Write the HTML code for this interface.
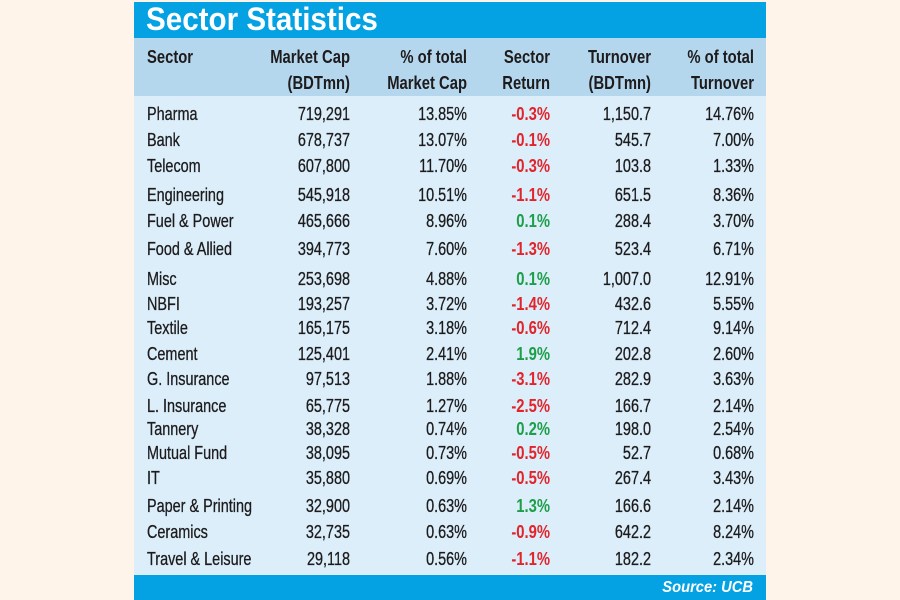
<!DOCTYPE html>
<html>
<head>
<meta charset="utf-8">
<style>
html,body{margin:0;padding:0;background:#FEF4E9;}
svg{display:block;}
text{font-family:"Liberation Sans",Arial,sans-serif;}
.b{font-size:18.5px;fill:#1d1b1c;stroke:#1d1b1c;stroke-width:0.3px;}
.h{font-size:18.5px;font-weight:bold;fill:#1d1b1c;}
.r{font-size:18.5px;font-weight:bold;fill:#E2242A;}
.g{font-size:18.5px;font-weight:bold;fill:#1E9E48;}
</style>
</head>
<body>
<svg width="900" height="600" viewBox="0 0 900 600" xmlns="http://www.w3.org/2000/svg">
<rect x="0" y="0" width="900" height="600" fill="#FEF4E9"/>
<rect x="134" y="2" width="632" height="36" fill="#04A2E3"/>
<rect x="134" y="38" width="632" height="58" fill="#B5D7EE"/>
<rect x="134" y="96" width="632" height="479" fill="#DBEEFA"/>
<rect x="134" y="575" width="632" height="25" fill="#04A2E3"/>

<text transform="translate(146,30) scale(0.925,1)" font-size="32" font-weight="bold" fill="#fff">Sector Statistics</text>

<!-- header -->
<g>
<text class="h" transform="translate(147,63) scale(0.8,1)">Sector</text>
<text class="h" transform="translate(350,63) scale(0.8,1)" text-anchor="end">Market Cap</text>
<text class="h" transform="translate(350,89) scale(0.8,1)" text-anchor="end">(BDTmn)</text>
<text class="h" transform="translate(467,63) scale(0.8,1)" text-anchor="end">% of total</text>
<text class="h" transform="translate(467,89) scale(0.8,1)" text-anchor="end">Market Cap</text>
<text class="h" transform="translate(550,63) scale(0.8,1)" text-anchor="end">Sector</text>
<text class="h" transform="translate(550,89) scale(0.8,1)" text-anchor="end">Return</text>
<text class="h" transform="translate(651,63) scale(0.8,1)" text-anchor="end">Turnover</text>
<text class="h" transform="translate(651,89) scale(0.8,1)" text-anchor="end">(BDTmn)</text>
<text class="h" transform="translate(754,63) scale(0.8,1)" text-anchor="end">% of total</text>
<text class="h" transform="translate(754,89) scale(0.8,1)" text-anchor="end">Turnover</text>
</g>

<!-- rows -->
<g>
<text class="b" transform="translate(147,120) scale(0.78,1)">Pharma</text>
<text class="b" transform="translate(350,120) scale(0.78,1)" text-anchor="end">719,291</text>
<text class="b" transform="translate(467,120) scale(0.78,1)" text-anchor="end">13.85%</text>
<text class="r" transform="translate(550,120) scale(0.8,1)" text-anchor="end">-0.3%</text>
<text class="b" transform="translate(651,120) scale(0.78,1)" text-anchor="end">1,150.7</text>
<text class="b" transform="translate(754,120) scale(0.78,1)" text-anchor="end">14.76%</text>

<text class="b" transform="translate(147,146) scale(0.78,1)">Bank</text>
<text class="b" transform="translate(350,146) scale(0.78,1)" text-anchor="end">678,737</text>
<text class="b" transform="translate(467,146) scale(0.78,1)" text-anchor="end">13.07%</text>
<text class="r" transform="translate(550,146) scale(0.8,1)" text-anchor="end">-0.1%</text>
<text class="b" transform="translate(651,146) scale(0.78,1)" text-anchor="end">545.7</text>
<text class="b" transform="translate(754,146) scale(0.78,1)" text-anchor="end">7.00%</text>

<text class="b" transform="translate(147,172) scale(0.78,1)">Telecom</text>
<text class="b" transform="translate(350,172) scale(0.78,1)" text-anchor="end">607,800</text>
<text class="b" transform="translate(467,172) scale(0.78,1)" text-anchor="end">11.70%</text>
<text class="r" transform="translate(550,172) scale(0.8,1)" text-anchor="end">-0.3%</text>
<text class="b" transform="translate(651,172) scale(0.78,1)" text-anchor="end">103.8</text>
<text class="b" transform="translate(754,172) scale(0.78,1)" text-anchor="end">1.33%</text>

<text class="b" transform="translate(147,201) scale(0.78,1)">Engineering</text>
<text class="b" transform="translate(350,201) scale(0.78,1)" text-anchor="end">545,918</text>
<text class="b" transform="translate(467,201) scale(0.78,1)" text-anchor="end">10.51%</text>
<text class="r" transform="translate(550,201) scale(0.8,1)" text-anchor="end">-1.1%</text>
<text class="b" transform="translate(651,201) scale(0.78,1)" text-anchor="end">651.5</text>
<text class="b" transform="translate(754,201) scale(0.78,1)" text-anchor="end">8.36%</text>

<text class="b" transform="translate(147,227) scale(0.78,1)">Fuel &amp; Power</text>
<text class="b" transform="translate(350,227) scale(0.78,1)" text-anchor="end">465,666</text>
<text class="b" transform="translate(467,227) scale(0.78,1)" text-anchor="end">8.96%</text>
<text class="g" transform="translate(550,227) scale(0.8,1)" text-anchor="end">0.1%</text>
<text class="b" transform="translate(651,227) scale(0.78,1)" text-anchor="end">288.4</text>
<text class="b" transform="translate(754,227) scale(0.78,1)" text-anchor="end">3.70%</text>

<text class="b" transform="translate(147,255) scale(0.78,1)">Food &amp; Allied</text>
<text class="b" transform="translate(350,255) scale(0.78,1)" text-anchor="end">394,773</text>
<text class="b" transform="translate(467,255) scale(0.78,1)" text-anchor="end">7.60%</text>
<text class="r" transform="translate(550,255) scale(0.8,1)" text-anchor="end">-1.3%</text>
<text class="b" transform="translate(651,255) scale(0.78,1)" text-anchor="end">523.4</text>
<text class="b" transform="translate(754,255) scale(0.78,1)" text-anchor="end">6.71%</text>

<text class="b" transform="translate(147,285) scale(0.78,1)">Misc</text>
<text class="b" transform="translate(350,285) scale(0.78,1)" text-anchor="end">253,698</text>
<text class="b" transform="translate(467,285) scale(0.78,1)" text-anchor="end">4.88%</text>
<text class="g" transform="translate(550,285) scale(0.8,1)" text-anchor="end">0.1%</text>
<text class="b" transform="translate(651,285) scale(0.78,1)" text-anchor="end">1,007.0</text>
<text class="b" transform="translate(754,285) scale(0.78,1)" text-anchor="end">12.91%</text>

<text class="b" transform="translate(147,310) scale(0.78,1)">NBFI</text>
<text class="b" transform="translate(350,310) scale(0.78,1)" text-anchor="end">193,257</text>
<text class="b" transform="translate(467,310) scale(0.78,1)" text-anchor="end">3.72%</text>
<text class="r" transform="translate(550,310) scale(0.8,1)" text-anchor="end">-1.4%</text>
<text class="b" transform="translate(651,310) scale(0.78,1)" text-anchor="end">432.6</text>
<text class="b" transform="translate(754,310) scale(0.78,1)" text-anchor="end">5.55%</text>

<text class="b" transform="translate(147,334) scale(0.78,1)">Textile</text>
<text class="b" transform="translate(350,334) scale(0.78,1)" text-anchor="end">165,175</text>
<text class="b" transform="translate(467,334) scale(0.78,1)" text-anchor="end">3.18%</text>
<text class="r" transform="translate(550,334) scale(0.8,1)" text-anchor="end">-0.6%</text>
<text class="b" transform="translate(651,334) scale(0.78,1)" text-anchor="end">712.4</text>
<text class="b" transform="translate(754,334) scale(0.78,1)" text-anchor="end">9.14%</text>

<text class="b" transform="translate(147,360) scale(0.78,1)">Cement</text>
<text class="b" transform="translate(350,360) scale(0.78,1)" text-anchor="end">125,401</text>
<text class="b" transform="translate(467,360) scale(0.78,1)" text-anchor="end">2.41%</text>
<text class="g" transform="translate(550,360) scale(0.8,1)" text-anchor="end">1.9%</text>
<text class="b" transform="translate(651,360) scale(0.78,1)" text-anchor="end">202.8</text>
<text class="b" transform="translate(754,360) scale(0.78,1)" text-anchor="end">2.60%</text>

<text class="b" transform="translate(147,385) scale(0.78,1)">G. Insurance</text>
<text class="b" transform="translate(350,385) scale(0.78,1)" text-anchor="end">97,513</text>
<text class="b" transform="translate(467,385) scale(0.78,1)" text-anchor="end">1.88%</text>
<text class="r" transform="translate(550,385) scale(0.8,1)" text-anchor="end">-3.1%</text>
<text class="b" transform="translate(651,385) scale(0.78,1)" text-anchor="end">282.9</text>
<text class="b" transform="translate(754,385) scale(0.78,1)" text-anchor="end">3.63%</text>

<text class="b" transform="translate(147,412) scale(0.78,1)">L. Insurance</text>
<text class="b" transform="translate(350,412) scale(0.78,1)" text-anchor="end">65,775</text>
<text class="b" transform="translate(467,412) scale(0.78,1)" text-anchor="end">1.27%</text>
<text class="r" transform="translate(550,412) scale(0.8,1)" text-anchor="end">-2.5%</text>
<text class="b" transform="translate(651,412) scale(0.78,1)" text-anchor="end">166.7</text>
<text class="b" transform="translate(754,412) scale(0.78,1)" text-anchor="end">2.14%</text>

<text class="b" transform="translate(147,435) scale(0.78,1)">Tannery</text>
<text class="b" transform="translate(350,435) scale(0.78,1)" text-anchor="end">38,328</text>
<text class="b" transform="translate(467,435) scale(0.78,1)" text-anchor="end">0.74%</text>
<text class="g" transform="translate(550,435) scale(0.8,1)" text-anchor="end">0.2%</text>
<text class="b" transform="translate(651,435) scale(0.78,1)" text-anchor="end">198.0</text>
<text class="b" transform="translate(754,435) scale(0.78,1)" text-anchor="end">2.54%</text>

<text class="b" transform="translate(147,459) scale(0.78,1)">Mutual Fund</text>
<text class="b" transform="translate(350,459) scale(0.78,1)" text-anchor="end">38,095</text>
<text class="b" transform="translate(467,459) scale(0.78,1)" text-anchor="end">0.73%</text>
<text class="r" transform="translate(550,459) scale(0.8,1)" text-anchor="end">-0.5%</text>
<text class="b" transform="translate(651,459) scale(0.78,1)" text-anchor="end">52.7</text>
<text class="b" transform="translate(754,459) scale(0.78,1)" text-anchor="end">0.68%</text>

<text class="b" transform="translate(147,484) scale(0.78,1)">IT</text>
<text class="b" transform="translate(350,484) scale(0.78,1)" text-anchor="end">35,880</text>
<text class="b" transform="translate(467,484) scale(0.78,1)" text-anchor="end">0.69%</text>
<text class="r" transform="translate(550,484) scale(0.8,1)" text-anchor="end">-0.5%</text>
<text class="b" transform="translate(651,484) scale(0.78,1)" text-anchor="end">267.4</text>
<text class="b" transform="translate(754,484) scale(0.78,1)" text-anchor="end">3.43%</text>

<text class="b" transform="translate(147,512) scale(0.78,1)">Paper &amp; Printing</text>
<text class="b" transform="translate(350,512) scale(0.78,1)" text-anchor="end">32,900</text>
<text class="b" transform="translate(467,512) scale(0.78,1)" text-anchor="end">0.63%</text>
<text class="g" transform="translate(550,512) scale(0.8,1)" text-anchor="end">1.3%</text>
<text class="b" transform="translate(651,512) scale(0.78,1)" text-anchor="end">166.6</text>
<text class="b" transform="translate(754,512) scale(0.78,1)" text-anchor="end">2.14%</text>

<text class="b" transform="translate(147,538) scale(0.78,1)">Ceramics</text>
<text class="b" transform="translate(350,538) scale(0.78,1)" text-anchor="end">32,735</text>
<text class="b" transform="translate(467,538) scale(0.78,1)" text-anchor="end">0.63%</text>
<text class="r" transform="translate(550,538) scale(0.8,1)" text-anchor="end">-0.9%</text>
<text class="b" transform="translate(651,538) scale(0.78,1)" text-anchor="end">642.2</text>
<text class="b" transform="translate(754,538) scale(0.78,1)" text-anchor="end">8.24%</text>

<text class="b" transform="translate(147,565) scale(0.78,1)">Travel &amp; Leisure</text>
<text class="b" transform="translate(350,565) scale(0.78,1)" text-anchor="end">29,118</text>
<text class="b" transform="translate(467,565) scale(0.78,1)" text-anchor="end">0.56%</text>
<text class="r" transform="translate(550,565) scale(0.8,1)" text-anchor="end">-1.1%</text>
<text class="b" transform="translate(651,565) scale(0.78,1)" text-anchor="end">182.2</text>
<text class="b" transform="translate(754,565) scale(0.78,1)" text-anchor="end">2.34%</text>
</g>

<text transform="translate(753,592) scale(0.92,1)" text-anchor="end" font-size="16" font-weight="bold" font-style="italic" fill="#fff">Source: UCB</text>
</svg>
</body>
</html>
